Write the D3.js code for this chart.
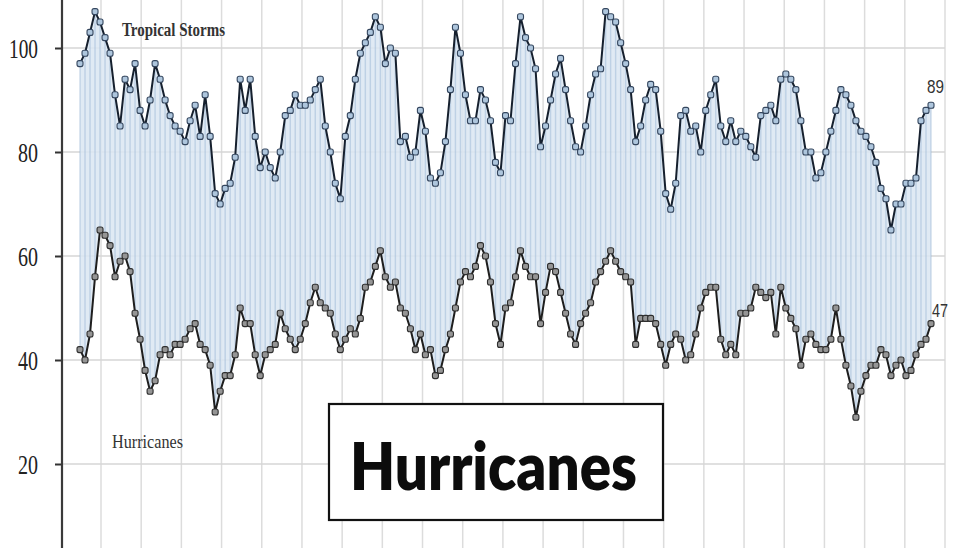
<!DOCTYPE html>
<html>
<head>
<meta charset="utf-8">
<script src="https://cdn.jsdelivr.net/npm/d3@7"></script>
<style>
  html, body { margin: 0; padding: 0; background: #fff; }
  svg { display: block; }
</style>
</head>
<body>
<svg id="chart" width="960" height="548"></svg>
<script>
// Rolling counts (one value per plotted point)
const tropicalStorms = [
  97, 99, 103, 107, 105, 102, 99, 91, 85, 94,
  92, 97, 88, 85, 90, 97, 94, 90, 87, 85,
  84, 82, 86, 89, 83, 91, 83, 72, 70, 73,
  74, 79, 94, 88, 94, 83, 77, 80, 77, 75,
  80, 87, 88, 91, 89, 89, 90, 92, 94, 85,
  80, 74, 71, 83, 87, 94, 99, 101, 103, 106,
  104, 97, 100, 99, 82, 83, 79, 80, 88, 84,
  75, 74, 76, 82, 92, 104, 99, 91, 86, 86,
  92, 90, 86, 78, 76, 87, 86, 97, 106, 102,
  100, 96, 81, 85, 90, 95, 98, 92, 86, 81,
  80, 85, 91, 95, 96, 107, 106, 105, 101, 97,
  92, 82, 85, 90, 93, 92, 84, 72, 69, 74,
  87, 88, 84, 85, 80, 88, 91, 94, 85, 82,
  86, 82, 84, 83, 81, 79, 87, 88, 89, 86,
  94, 95, 94, 92, 86, 80, 80, 75, 76, 80,
  84, 88, 92, 91, 89, 86, 84, 83, 81, 78,
  73, 71, 65, 70, 70, 74, 74, 75, 86, 88,
  89
];
const hurricanes = [
  42, 40, 45, 56, 65, 64, 62, 56, 59, 60,
  57, 49, 44, 38, 34, 36, 41, 42, 41, 43,
  43, 44, 46, 47, 43, 42, 39, 30, 34, 37,
  37, 41, 50, 47, 47, 41, 37, 41, 42, 43,
  49, 46, 44, 42, 44, 47, 51, 54, 51, 50,
  49, 45, 42, 44, 46, 45, 48, 54, 55, 58,
  61, 56, 54, 55, 50, 49, 46, 42, 45, 41,
  42, 37, 38, 42, 45, 50, 55, 57, 56, 58,
  62, 60, 55, 47, 43, 50, 51, 56, 61, 58,
  56, 56, 47, 53, 58, 57, 53, 49, 45, 43,
  47, 49, 51, 55, 57, 59, 61, 59, 57, 56,
  55, 43, 48, 48, 48, 47, 43, 39, 43, 45,
  44, 40, 41, 45, 50, 53, 54, 54, 44, 41,
  43, 41, 49, 49, 50, 54, 53, 52, 53, 45,
  54, 50, 48, 46, 39, 44, 45, 43, 42, 42,
  44, 50, 44, 39, 35, 29, 34, 37, 39, 39,
  42, 41, 37, 39, 40, 37, 38, 41, 43, 44,
  47
];
const yTicks = [20, 40, 60, 80, 100];
const seriesLabels = ["Tropical Storms", "Hurricanes"];
const boxTitle = "Hurricanes";

const svg = d3.select("#chart");
const W = 960, H = 548;

const n = tropicalStorms.length;
const x = d3.scaleLinear().domain([0, n - 1]).range([80, 931]);
const y = d3.scaleLinear().domain([20, 100]).range([464, 48]);
const gridX = d3.scaleLinear().domain([0, 21]).range([101, 945]);

// Gridlines
const grid = svg.append("g");
grid.selectAll("line.v").data(d3.range(0, 22)).join("line")
  .attr("x1", d => gridX(d)).attr("x2", d => gridX(d))
  .attr("y1", 0).attr("y2", H)
  .attr("stroke", "#dcdcdc").attr("stroke-width", 1.5);
grid.selectAll("line.h").data(yTicks).join("line")
  .attr("x1", 62).attr("x2", 945)
  .attr("y1", d => y(d)).attr("y2", d => y(d))
  .attr("stroke", "#d6d6d6").attr("stroke-width", 1.5);

const idx = d3.range(n);

// Band between the two series
const area = d3.area()
  .x(i => x(i))
  .y0(i => y(hurricanes[i]))
  .y1(i => y(tropicalStorms[i]));
svg.append("path").datum(idx)
  .attr("d", area)
  .attr("fill", "#dbe6f2").attr("fill-opacity", 0.85);

// Vertical drop stripes
svg.append("g").selectAll("line").data(idx).join("line")
  .attr("x1", i => x(i)).attr("x2", i => x(i))
  .attr("y1", i => y(tropicalStorms[i]))
  .attr("y2", i => y(hurricanes[i]))
  .attr("stroke", "#9bb8d6").attr("stroke-opacity", 0.5)
  .attr("stroke-width", 1.4);

// Lines
const line = arr => d3.line().x(i => x(i)).y(i => y(arr[i]));
svg.append("path").datum(idx).attr("d", line(tropicalStorms))
  .attr("fill", "none").attr("stroke", "#16202e").attr("stroke-width", 2);
svg.append("path").datum(idx).attr("d", line(hurricanes))
  .attr("fill", "none").attr("stroke", "#1e1e1e").attr("stroke-width", 2);

// Markers
svg.append("g").selectAll("rect").data(idx).join("rect")
  .attr("x", i => x(i) - 3).attr("y", i => y(tropicalStorms[i]) - 3)
  .attr("width", 6).attr("height", 6).attr("rx", 2)
  .attr("fill", "#aec6dd").attr("stroke", "#34465e").attr("stroke-width", 1.1);
svg.append("g").selectAll("rect").data(idx).join("rect")
  .attr("x", i => x(i) - 3).attr("y", i => y(hurricanes[i]) - 3)
  .attr("width", 6).attr("height", 6).attr("rx", 2)
  .attr("fill", "#959595").attr("stroke", "#2e2e2e").attr("stroke-width", 1.1);

// Y axis
const yAxis = d3.axisLeft(y).tickValues(yTicks).tickSize(7).tickPadding(17)
  .tickFormat(d3.format("d"));
const ax = svg.append("g").attr("transform", "translate(62,0)").call(yAxis);
ax.select(".domain").remove();
ax.selectAll(".tick line").attr("stroke", "#333").attr("stroke-width", 2);
ax.selectAll(".tick text")
  .attr("font-family", "'Liberation Serif', 'DejaVu Serif', serif")
  .attr("font-size", 27).attr("fill", "#222")
  .attr("dy", "0.34em")
  .attr("textLength", d => d >= 100 ? 29 : 20)
  .attr("lengthAdjust", "spacingAndGlyphs");
svg.append("line").attr("x1", 62).attr("x2", 62).attr("y1", 0).attr("y2", H)
  .attr("stroke", "#3a3a3a").attr("stroke-width", 2.2);

// Series labels
svg.append("text").attr("x", 122).attr("y", 36)
  .attr("font-family", "'Liberation Serif', serif").attr("font-size", 18)
  .attr("font-weight", "bold").attr("fill", "#333")
  .attr("textLength", 103).attr("lengthAdjust", "spacingAndGlyphs")
  .text(seriesLabels[0]);
svg.append("text").attr("x", 112).attr("y", 448)
  .attr("font-family", "'Liberation Serif', serif").attr("font-size", 18)
  .attr("fill", "#333")
  .attr("textLength", 71).attr("lengthAdjust", "spacingAndGlyphs")
  .text(seriesLabels[1]);

// End labels
svg.append("text").attr("x", 927).attr("y", 93)
  .attr("font-family", "'Liberation Sans', Arial, sans-serif").attr("font-size", 19)
  .attr("fill", "#333").attr("textLength", 17).attr("lengthAdjust", "spacingAndGlyphs")
  .text(tropicalStorms[n - 1]);
svg.append("text").attr("x", 932).attr("y", 317)
  .attr("font-family", "'Liberation Sans', Arial, sans-serif").attr("font-size", 18)
  .attr("fill", "#333").attr("textLength", 16).attr("lengthAdjust", "spacingAndGlyphs")
  .text(hurricanes[n - 1]);

// Title box
svg.append("rect").attr("x", 329).attr("y", 404).attr("width", 334).attr("height", 116)
  .attr("fill", "#fff").attr("stroke", "#111").attr("stroke-width", 2.2);
svg.append("text").attr("x", 350).attr("y", 490)
  .attr("font-family", "Lato, 'Open Sans', sans-serif").attr("font-weight", 800)
  .attr("font-size", 66).attr("fill", "#0c0c0c")
  .attr("textLength", 287).attr("lengthAdjust", "spacingAndGlyphs")
  .text(boxTitle);
</script>
</body>
</html>
